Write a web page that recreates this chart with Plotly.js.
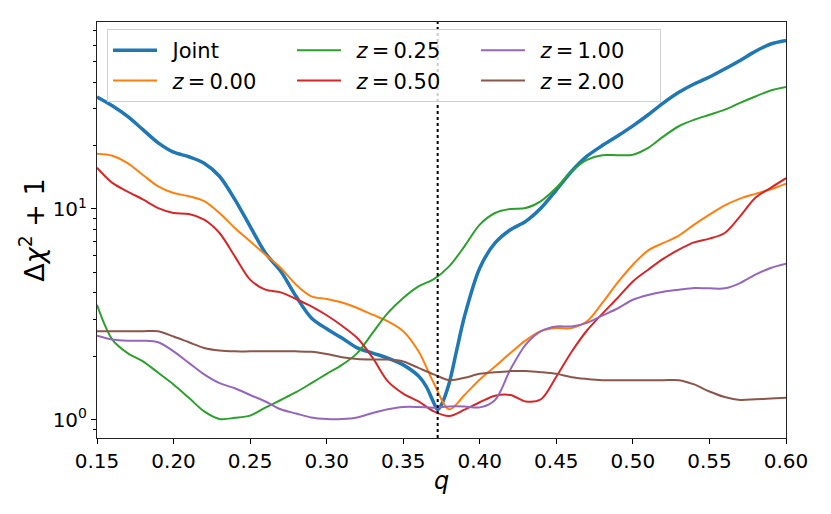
<!DOCTYPE html>
<html>
<head>
<meta charset="utf-8">
<script src="https://cdn.plot.ly/plotly-3.0.1.min.js"></script>
<style>
  html, body { margin: 0; padding: 0; background: #fff; }
  #chart { width: 831px; height: 514px; }
</style>
</head>
<body>
<div id="chart"></div>
<script>
// q grid shared by the single-redshift curves
const qGrid = [0.15, 0.16, 0.17, 0.18, 0.19, 0.20, 0.21, 0.22, 0.23, 0.24,
               0.25, 0.26, 0.27, 0.28, 0.29, 0.30, 0.31, 0.32, 0.33, 0.34,
               0.35, 0.36, 0.37, 0.38, 0.39, 0.40, 0.41, 0.42, 0.43, 0.44,
               0.45, 0.46, 0.47, 0.48, 0.49, 0.50, 0.51, 0.52, 0.53, 0.54,
               0.55, 0.56, 0.57, 0.58, 0.59, 0.60];

// joint curve is sampled a bit finer around its sharp minimum
const qJoint = [0.15, 0.16, 0.17, 0.18, 0.19, 0.20, 0.21, 0.22, 0.23, 0.24,
                0.25, 0.26, 0.27, 0.28, 0.29, 0.30, 0.31, 0.32, 0.33, 0.34,
                0.35, 0.36, 0.365, 0.37, 0.3725, 0.375, 0.38, 0.385, 0.39, 0.40,
                0.41, 0.42, 0.43, 0.44, 0.45, 0.46, 0.47, 0.48, 0.49, 0.50,
                0.51, 0.52, 0.53, 0.54, 0.55, 0.56, 0.57, 0.58, 0.59, 0.60];

const joint = [34.0, 30.9, 27.5, 23.8, 20.6, 18.6, 17.7, 16.5, 14.3, 11.1,
               8.27, 6.18, 5.06, 3.85, 3.04, 2.70, 2.44, 2.19, 2.07, 1.96,
               1.82, 1.61, 1.44, 1.20, 1.115, 1.18, 1.49, 2.15, 3.09, 5.25,
               6.90, 7.97, 8.73, 10.1, 12.3, 15.1, 17.8, 20.0, 22.2, 24.8,
               28.0, 31.9, 35.8, 39.2, 42.3, 46.2, 50.7, 56.0, 60.7, 63.1];

const z000 = [18.3, 17.9, 16.5, 14.5, 12.8, 11.9, 11.5, 10.9, 9.57, 8.13,
              7.02, 6.07, 5.25, 4.37, 3.85, 3.74, 3.60, 3.39, 3.15, 2.93,
              2.63, 2.11, 1.49, 1.12, 1.31, 1.55, 1.79, 2.07, 2.38, 2.63,
              2.72, 2.72, 2.93, 3.58, 4.47, 5.44, 6.36, 6.90, 7.47, 8.43,
              9.40, 10.4, 11.2, 11.8, 12.4, 13.2];

const z025 = [3.51, 2.40, 2.07, 1.89, 1.67, 1.47, 1.27, 1.095, 1.008, 1.02,
              1.045, 1.14, 1.24, 1.35, 1.49, 1.65, 1.82, 2.07, 2.58, 3.21,
              3.78, 4.29, 4.65, 5.34, 6.65, 8.43, 9.57, 10.0, 10.1, 10.9,
              12.6, 15.1, 17.1, 18.0, 18.0, 18.1, 19.5, 22.1, 24.7, 26.5,
              28.0, 29.6, 31.9, 34.2, 36.5, 37.9];

const z050 = [15.7, 13.3, 12.1, 11.1, 10.1, 9.57, 9.47, 8.90, 7.69, 5.96,
              4.62, 4.14, 4.02, 3.74, 3.45, 3.13, 2.79, 2.44, 1.97, 1.52,
              1.33, 1.22, 1.095, 1.04, 1.115, 1.21, 1.30, 1.31, 1.22, 1.25,
              1.60, 2.10, 2.65, 3.18, 3.78, 4.53, 5.15, 5.81, 6.41, 6.94,
              7.23, 7.69, 9.22, 11.3, 12.6, 14.0];

const z100 = [2.50, 2.40, 2.37, 2.37, 2.33, 2.11, 1.86, 1.64, 1.49, 1.41,
              1.31, 1.22, 1.12, 1.07, 1.025, 1.008, 1.008, 1.025, 1.076, 1.12,
              1.149, 1.149, 1.14, 1.156, 1.156, 1.144, 1.24, 1.73, 2.27, 2.63,
              2.77, 2.77, 2.88, 3.12, 3.37, 3.71, 3.91, 4.05, 4.14, 4.22,
              4.20, 4.20, 4.45, 4.88, 5.25, 5.50];

const z200 = [2.63, 2.63, 2.63, 2.63, 2.63, 2.48, 2.33, 2.19, 2.13, 2.11,
              2.11, 2.11, 2.11, 2.11, 2.10, 2.05, 1.98, 1.94, 1.93, 1.93,
              1.89, 1.76, 1.64, 1.54, 1.58, 1.65, 1.68, 1.70, 1.70, 1.68,
              1.65, 1.59, 1.56, 1.54, 1.54, 1.54, 1.54, 1.54, 1.54, 1.47,
              1.36, 1.28, 1.24, 1.25, 1.26, 1.27];

// best-fit q, marked with the dotted line
const qBest = 0.3725;

const xTicks = [0.15, 0.20, 0.25, 0.30, 0.35, 0.40, 0.45, 0.50, 0.55, 0.60];
const yTicks = [1, 10];
const yTickText = ['10<sup>0</sup>', '10<sup>1</sup>'];
const yMinor = [0.9, 2, 3, 4, 5, 6, 7, 8, 9, 20, 30, 40, 50, 60, 70];

function curve(x, y, name, color, width, rank) {
  return {
    x: x, y: y, name: '\u2002' + name, type: 'scatter', mode: 'lines',
    line: { color: color, width: width, shape: 'spline', smoothing: 0.9 },
    legendrank: rank
  };
}

const zName = z => '<i>z</i>\u2009=\u2009' + z;

// legend ranks give matplotlib's column-first ordering in a 3-column legend
const traces = [
  curve(qJoint, joint, 'Joint', '#1f77b4', 3.5, 1),
  curve(qGrid, z000, zName('0.00'), '#ff7f0e', 2, 4),
  curve(qGrid, z025, zName('0.25'), '#2ca02c', 2, 2),
  curve(qGrid, z050, zName('0.50'), '#d62728', 2, 5),
  curve(qGrid, z100, zName('1.00'), '#9467bd', 2, 3),
  curve(qGrid, z200, zName('2.00'), '#8c564b', 2, 6)
];

const layout = {
  width: 831,
  height: 514,
  margin: { l: 97, r: 45, t: 22, b: 76 },
  paper_bgcolor: '#fff',
  plot_bgcolor: '#fff',
  font: { family: 'DejaVu Sans', size: 20, color: '#000' },
  showlegend: true,
  legend: {
    x: 0.0145, y: 0.983, xanchor: 'left', yanchor: 'top',
    orientation: 'h',
    itemwidth: 44,
    entrywidth: 125, entrywidthmode: 'pixels',
    bgcolor: 'rgba(255,255,255,0.8)',
    bordercolor: '#d0d0d0', borderwidth: 1,
    font: { size: 21 },
    traceorder: 'normal'
  },
  xaxis: {
    range: [0.15, 0.60],
    tickvals: xTicks,
    tickformat: '.2f',
    ticks: 'outside', ticklen: 5, tickcolor: '#000',
    showline: true, mirror: true, linecolor: '#222', linewidth: 1,
    showgrid: false, zeroline: false,
    title: { text: '<i>q</i>', font: { size: 24 }, standoff: 0 }
  },
  yaxis: {
    type: 'log',
    range: [-0.087, 1.8875],
    tickvals: yTicks,
    ticktext: yTickText,
    ticks: 'outside', ticklen: 5, tickcolor: '#000',
    minor: { tickvals: yMinor, ticks: 'outside', ticklen: 3, tickcolor: '#000' },
    showline: true, mirror: true, linecolor: '#222', linewidth: 1,
    showgrid: false, zeroline: false,
    title: { text: 'Δ<i>χ</i><sup>2</sup> + 1', font: { size: 27 }, standoff: 0 }
  },
  shapes: [{
    type: 'line', xref: 'x', yref: 'paper',
    x0: qBest, x1: qBest, y0: 0, y1: 1,
    line: { color: '#000', width: 2, dash: 'dot' }
  }]
};

Plotly.newPlot('chart', traces, layout, { displayModeBar: false, staticPlot: true });
</script>
</body>
</html>
